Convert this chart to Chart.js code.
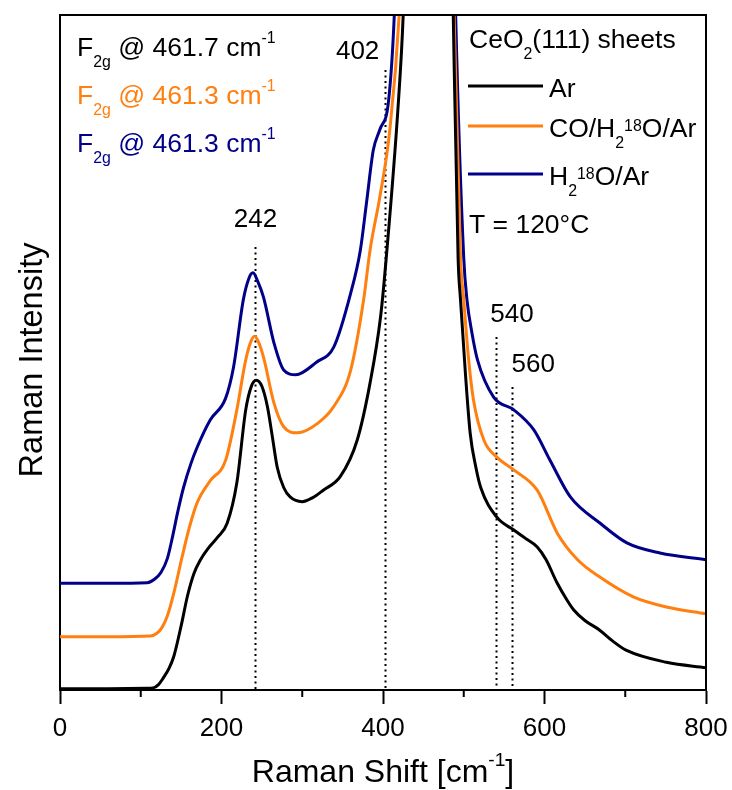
<!DOCTYPE html>
<html>
<head>
<meta charset="utf-8">
<script src="https://cdn.jsdelivr.net/npm/chart.js@4.4.0/dist/chart.umd.min.js"></script>
<style>
  html, body { margin: 0; padding: 0; background: #fff; }
</style>
</head>
<body>
<canvas id="ramanChart" width="732" height="790"></canvas>
<script>
// Raman shift [cm-1] and intensity (arb. units, offset curves)
var shiftAr = [0, 60, 108, 115, 122, 128, 135, 141, 150, 158, 166, 174, 183, 195, 207, 219, 230, 237, 243, 250, 257, 263, 269, 277, 285, 300, 313, 326, 347, 368, 384, 397, 404, 419, 425, 440, 455, 462, 470, 480, 487, 493, 496, 502, 508, 515, 521, 541, 562, 576, 591, 602, 615, 628, 636, 650, 668, 685, 701, 751, 800];
var intAr   = [0.2, 0.2, 0.25, 0.3, 0.8, 1.8, 3.2, 5, 9.5, 14, 17.3, 19.3, 20.9, 22.6, 24.7, 30.7, 41.5, 45, 45.9, 45, 41.9, 37.5, 33, 30, 28.6, 27.9, 28.5, 29.6, 31.6, 37, 45.5, 55.3, 64, 87, 100, 160, 260, 300, 250, 150, 100, 64, 57.8, 47, 38, 33, 30, 25.6, 23.7, 22.5, 21.2, 19.3, 16, 13.3, 11.9, 10.3, 8.9, 7.2, 5.9, 4.1, 3.3];

var shiftCO = [0, 60, 112, 120, 126, 133, 141, 151, 160, 170, 186, 205, 219, 230, 236, 241, 246, 252, 265, 277, 294, 319, 339, 360, 376, 384, 396, 408, 420, 440, 455, 462, 470, 480, 488, 496, 500, 506, 512, 525, 541, 562, 591, 616, 641, 669, 710, 751, 800];
var intCO   = [7.9, 7.9, 8.0, 8.4, 9.2, 11, 14.4, 19.6, 24, 27.8, 31, 34, 41.5, 48.9, 51.5, 52.4, 51.5, 49.3, 42.5, 39, 38.1, 39.5, 42, 47.4, 57.8, 65.2, 73, 82.5, 100, 160, 260, 300, 250, 150, 100, 64, 57.8, 49, 43, 37, 34.5, 32.6, 29.6, 23.2, 19.3, 16.7, 13.8, 12.3, 11.3];

var shiftH2O = [0, 60, 108, 117, 125, 133, 139, 146, 153, 162, 170, 186, 205, 215, 227, 234, 239, 245, 252, 265, 277, 292, 318, 339, 360, 372, 380, 388, 396, 407, 414, 430, 450, 462, 472, 482, 490, 500, 504, 510, 517, 537, 562, 587, 607, 632, 669, 702, 743, 800];
var intH2O   = [15.8, 15.8, 15.9, 16.4, 17.4, 19.5, 22.5, 26.5, 30, 33.5, 36, 40, 43.2, 47.9, 57.8, 61, 61.8, 60.5, 58.2, 51.4, 47.4, 46.7, 48.6, 50.8, 58.8, 65.2, 72.6, 80, 83, 87.4, 100, 160, 260, 300, 250, 150, 100, 64, 57.8, 53, 48.9, 43.4, 41.5, 38.5, 34, 28.6, 24.7, 21.8, 20.3, 19.3];

// marked bands [cm-1]
var bandShifts = [242, 402, 540, 560];
var bandLabels = ['242', '402', '540', '560'];

var xTicks = [0, 200, 400, 600, 800];

// rich-text labels: [text, kind] with kind '' | 'sub' | 'sup' | 'iso'
var f2gLines = [
  { color: '#000000', parts: [['F'], ['2g', 'sub'], [' @ 461.7 cm'], ['-1', 'sup']] },
  { color: '#ff7f0f', parts: [['F'], ['2g', 'sub'], [' @ 461.3 cm'], ['-1', 'sup']] },
  { color: '#000088', parts: [['F'], ['2g', 'sub'], [' @ 461.3 cm'], ['-1', 'sup']] }
];
var legendTitle = [['CeO'], ['2', 'sub'], ['(111) sheets']];
var seriesNames = [
  [['Ar']],
  [['CO/H'], ['2', 'sub'], ['18', 'iso'], ['O/Ar']],
  [['H'], ['2', 'sub'], ['18', 'iso'], ['O/Ar']]
];
var seriesColors = ['#000000', '#ff7f0f', '#000088'];

var FONT = '"Liberation Sans", Arial, Helvetica, sans-serif';

function pts(xs, ys) {
  return xs.map(function (x, i) { return { x: x, y: ys[i] }; });
}

function drawRich(ctx, x, y, parts, size, color, align) {
  var small = size * 0.6;
  var widths = parts.map(function (p) {
    ctx.font = (p[1] ? small : size) + 'px ' + FONT;
    return ctx.measureText(p[0]).width;
  });
  var total = widths.reduce(function (a, b) { return a + b; }, 0);
  var cx = align === 'center' ? x - total / 2 : x;
  ctx.fillStyle = color;
  ctx.textAlign = 'left';
  ctx.textBaseline = 'alphabetic';
  parts.forEach(function (p, i) {
    var k = p[1] || '';
    var dy = 0;
    if (k === 'sub') dy = size * 0.42;
    if (k === 'sup') dy = -size * 0.5;
    if (k === 'iso') dy = -size * 0.24;
    ctx.font = (k ? small : size) + 'px ' + FONT;
    ctx.fillText(p[0], cx, y + dy);
    cx += widths[i];
  });
}

var decor = {
  id: 'decor',
  beforeDatasetsDraw: function (chart) {
    var ctx = chart.ctx, xs = chart.scales.x, ys = chart.scales.y;
    var tops = [247, 70, 337, 387];
    ctx.save();
    ctx.strokeStyle = '#000';
    ctx.lineWidth = 2;
    ctx.setLineDash([2, 3.5]);
    bandShifts.forEach(function (v, i) {
      var px = Math.round(xs.getPixelForValue(v)) + 0.5;
      ctx.beginPath();
      ctx.moveTo(px, tops[i]);
      ctx.lineTo(px, ys.getPixelForValue(0));
      ctx.stroke();
    });
    ctx.restore();
  },
  afterDraw: function (chart) {
    var ctx = chart.ctx, a = chart.chartArea, xs = chart.scales.x;
    ctx.save();
    // frame
    ctx.strokeStyle = '#000';
    ctx.lineWidth = 2;
    ctx.beginPath();
    ctx.moveTo(a.left, a.top);
    ctx.lineTo(a.right, a.top);
    ctx.lineTo(a.right, a.bottom);
    ctx.stroke();
    // minor ticks
    for (var v = 100; v < 800; v += 200) {
      var px = xs.getPixelForValue(v);
      ctx.beginPath();
      ctx.moveTo(px, a.bottom);
      ctx.lineTo(px, a.bottom + 7);
      ctx.stroke();
    }
    // band labels
    var dx = [0, -27, 16, 21], base = [227, 59, 322, 372];
    bandShifts.forEach(function (b, i) {
      drawRich(ctx, xs.getPixelForValue(b) + dx[i], base[i], [[bandLabels[i]]], 26, '#000', 'center');
    });
    // F2g notes
    f2gLines.forEach(function (l, i) {
      drawRich(ctx, 77, 56 + i * 48, l.parts, 26.5, l.color, 'left');
    });
    // legend
    drawRich(ctx, 469, 48, legendTitle, 26.5, '#000', 'left');
    var lineY = [86, 126, 174], textY = [97, 137, 185];
    seriesNames.forEach(function (n, i) {
      ctx.strokeStyle = seriesColors[i];
      ctx.lineWidth = 3;
      ctx.beginPath();
      ctx.moveTo(468, lineY[i]);
      ctx.lineTo(543, lineY[i]);
      ctx.stroke();
      drawRich(ctx, 549, textY[i], n, 26.5, '#000', 'left');
    });
    drawRich(ctx, 469, 233, [['T = 120\u00B0C']], 26.5, '#000', 'left');
    // axis titles
    drawRich(ctx, (a.left + a.right) / 2, 782, [['Raman Shift [cm'], ['-1', 'sup'], [']']], 32, '#000', 'center');
    ctx.translate(42, 360);
    ctx.rotate(-Math.PI / 2);
    drawRich(ctx, 0, 0, [['Raman Intensity']], 32.5, '#000', 'center');
    ctx.restore();
  }
};

var ctx = document.getElementById('ramanChart').getContext('2d');
var chart = new Chart(ctx, {
  type: 'line',
  data: {
    datasets: [
      { label: 'Ar', data: pts(shiftAr, intAr), borderColor: seriesColors[0] },
      { label: 'CO/H2 18O/Ar', data: pts(shiftCO, intCO), borderColor: seriesColors[1] },
      { label: 'H2 18O/Ar', data: pts(shiftH2O, intH2O), borderColor: seriesColors[2] }
    ]
  },
  options: {
    responsive: false,
    animation: false,
    layout: { padding: { top: 15, right: 26, left: 0, bottom: 0 } },
    elements: {
      point: { radius: 0 },
      line: { borderWidth: 3, cubicInterpolationMode: 'monotone', fill: false }
    },
    plugins: { legend: { display: false }, tooltip: { enabled: false } },
    scales: {
      x: {
        type: 'linear', min: 0, max: 800,
        afterFit: function (s) { s.height = 100; s.paddingLeft = 0; s.paddingRight = 0; },
        afterBuildTicks: function (s) { s.ticks = xTicks.map(function (v) { return { value: v }; }); },
        ticks: { color: '#000', font: { family: FONT, size: 26 }, padding: 9, maxRotation: 0 },
        grid: { drawOnChartArea: false, drawTicks: true, tickLength: 14, tickWidth: 2, tickColor: '#000' },
        border: { display: true, color: '#000', width: 2 }
      },
      y: {
        min: 0, max: 100,
        afterFit: function (s) { s.width = 60; },
        ticks: { display: false },
        grid: { drawOnChartArea: false, drawTicks: false },
        border: { display: true, color: '#000', width: 2 }
      }
    }
  },
  plugins: [decor]
});
</script>
</body>
</html>
